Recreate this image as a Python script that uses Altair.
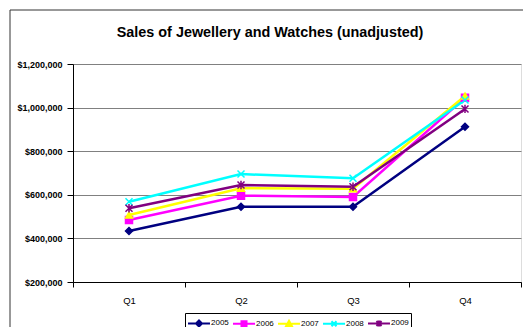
import altair as alt
import pandas as pd

quarters = ["Q1", "Q2", "Q3", "Q4"]
years = ["2005", "2006", "2007", "2008", "2009"]
sales_2005 = [434000, 545000, 545000, 912000]
sales_2006 = [484000, 596000, 590000, 1045000]
sales_2007 = [507000, 630000, 628000, 1053000]
sales_2008 = [568000, 695000, 676000, 1035000]
sales_2009 = [538000, 645000, 637000, 994000]
colors = ["#000080", "#FF00FF", "#FFFF00", "#00FFFF", "#800080"]
y_ticks = [200000, 400000, 600000, 800000, 1000000, 1200000]
title_text = "Sales of Jewellery and Watches (unadjusted)"

series = [sales_2005, sales_2006, sales_2007, sales_2008, sales_2009]
rows = []
for yr, vals in zip(years, series):
    for q, v in zip(quarters, vals):
        rows.append({"Quarter": q, "Sales": v, "Year": yr, "Series": yr})
df = pd.DataFrame(rows)

FONT = "Liberation Sans"

marker_shapes = [
    "diamond",
    "square",
    "triangle-up",
    "M-1,-1L1,1M-1,1L1,-1",
    "M-1,-1L1,1M-1,1L1,-1M0,-1.2L0,1.2",
]
legend_shapes = [
    "M-1.57,0L1.57,0M0,-0.43L0.43,0L0,0.43L-0.43,0Z",
    "M-1.57,0L1.57,0M-0.36,-0.36L0.36,-0.36L0.36,0.36L-0.36,0.36Z",
    "M-1.57,0L1.57,0M0,-0.43L0.43,0.36L-0.43,0.36Z",
    "M-1.57,0L1.57,0M-0.36,-0.36L0.36,0.36M-0.36,0.36L0.36,-0.36",
    "M-1.57,0L1.57,0M-0.36,-0.36L0.36,0.36M-0.36,0.36L0.36,-0.36M0,-0.43L0,0.43",
]

x_enc = alt.X(
    "Quarter:N",
    sort=quarters,
    scale=alt.Scale(type="band", paddingInner=0, paddingOuter=0),
    axis=alt.Axis(
        title=None, labelAngle=0, tickBand="extent", labelFont=FONT,
        labelFontSize=9.5, labelColor="black", domainColor="black",
        tickColor="black", tickSize=5, labelPadding=8, grid=False,
    ),
)
y_enc = alt.Y(
    "Sales:Q",
    scale=alt.Scale(domain=[200000, 1200000], nice=False, zero=False),
    axis=alt.Axis(
        title=None, values=y_ticks, format="$,.0f", labelFont=FONT,
        labelFontSize=9, labelFontWeight="bold", labelColor="black",
        domainColor="black", tickColor="black", tickSize=6, labelPadding=5,
        gridColor="#808080", gridWidth=1,
    ),
)

base = alt.Chart(df)

lines = base.mark_line(strokeWidth=2.5).encode(
    x=x_enc, y=y_enc,
    color=alt.Color("Year:N", scale=alt.Scale(domain=years, range=colors), legend=None),
    detail="Year:N",
)

points = base.mark_point(filled=True, size=49, strokeWidth=1.5, opacity=1).encode(
    x=x_enc, y=y_enc,
    fill=alt.Fill("Year:N", scale=alt.Scale(domain=years, range=colors), legend=None),
    stroke=alt.Stroke("Year:N", scale=alt.Scale(domain=years, range=colors), legend=None),
    shape=alt.Shape("Year:N", scale=alt.Scale(domain=years, range=marker_shapes), legend=None),
)

leg = alt.Legend(
    title=None, orient="none", legendX=112, legendY=249, direction="horizontal",
    columns=5, symbolSize=196, symbolStrokeWidth=2, symbolOpacity=1,
    symbolOffset=4,
    labelFont=FONT, labelFontSize=8, labelColor="black", labelOffset=4,
    columnPadding=0, padding=2, strokeColor="black", fillColor="white",
)
legend_layer = base.mark_point(filled=True, size=10, opacity=0).encode(
    x=x_enc, y=y_enc,
    fill=alt.Fill("Series:N", scale=alt.Scale(domain=years, range=colors), legend=leg),
    stroke=alt.Stroke("Series:N", scale=alt.Scale(domain=years, range=colors), legend=leg),
    shape=alt.Shape("Series:N", scale=alt.Scale(domain=years, range=legend_shapes), legend=leg),
)

frame = alt.Chart(pd.DataFrame({"a": [0]})).mark_rect(
    fillOpacity=0, stroke="#333333", strokeWidth=1
).encode(
    x=alt.value(-63), y=alt.value(-54), x2=alt.value(700), y2=alt.value(500)
)

title = alt.Chart(pd.DataFrame({"t": [title_text]})).mark_text(
    font=FONT, fontSize=14.4, fontWeight="bold", color="black",
    align="center", baseline="alphabetic",
).encode(text="t:N", x=alt.value(197), y=alt.value(-27))

chart = alt.layer(frame, title, lines, points, legend_layer).resolve_scale(
    color="independent", fill="independent", stroke="independent", shape="independent"
).properties(
    width=448,
    height=218,
    autosize=alt.AutoSizeParams(type="none"),
    padding={"left": 73, "top": 64, "right": 2, "bottom": 45},
).configure_view(stroke="#808080", strokeWidth=1).configure(background="white")

chart.save("out.html", embed_options={"renderer": "svg", "actions": False})
